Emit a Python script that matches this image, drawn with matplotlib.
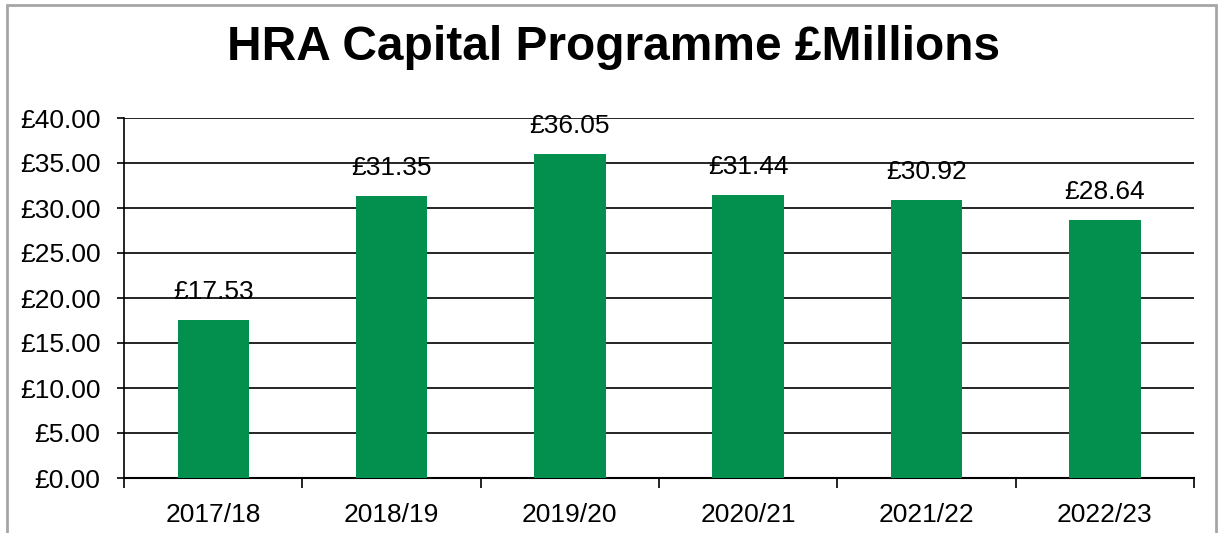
import matplotlib
matplotlib.use("Agg")
import matplotlib.pyplot as plt
from matplotlib.patches import Rectangle

# data
years = ["2017/18", "2018/19", "2019/20", "2020/21", "2021/22", "2022/23"]
spend = [17.53, 31.35, 36.05, 31.44, 30.92, 28.64]

GREEN = "#03904F"

plt.rcParams["font.family"] = ["Liberation Sans", "DejaVu Sans"]

fig = plt.figure(figsize=(12.18, 5.33), dpi=100)
fig.patch.set_facecolor("white")

# grey chart-area border (bottom edge is cut off in the original)
fig.patches.append(Rectangle((7 / 1218, -0.05), 1209 / 1218, 1.05 - 5 / 533,
                             transform=fig.transFigure, fill=False,
                             edgecolor="#A6A6A6", linewidth=2))

ax = fig.add_axes([124 / 1218, 1 - 478 / 533, (1194 - 124) / 1218, (478 - 118) / 533])

x = list(range(len(years)))
ax.bar(x, spend, width=0.4, color=GREEN, zorder=3)
for xi, v in zip(x, spend):
    ax.annotate(f"£{v:.2f}", xy=(xi, v), xytext=(0, 20), textcoords="offset points",
                ha="center", va="center", fontsize=19, color="black")

ax.set_xlim(-0.5, len(years) - 0.5)
ax.set_ylim(0, 40)
ax.set_yticks(range(0, 41, 5))
ax.set_yticklabels([f"£{t:.2f}" for t in range(0, 41, 5)], fontsize=19)
ax.yaxis.grid(True, color="black", linewidth=1.2, zorder=0)
ax.tick_params(axis="y", length=5, width=1.2, pad=12)

ax.set_xticks(x)
ax.set_xticklabels(years, fontsize=19)
ax.set_xticks([i - 0.5 for i in range(len(years) + 1)], minor=True)
ax.tick_params(axis="x", which="major", length=0, pad=18)
ax.tick_params(axis="x", which="minor", length=7, width=1.2)

for side in ["top", "right"]:
    ax.spines[side].set_visible(False)
ax.spines["left"].set_linewidth(1.2)
ax.spines["bottom"].set_linewidth(1.5)

fig.text(614 / 1218, 1 - 48 / 533, "HRA Capital Programme £Millions",
         ha="center", va="center", fontsize=34.5, fontweight="bold")

fig.savefig("out.png", dpi=100, facecolor="white")
